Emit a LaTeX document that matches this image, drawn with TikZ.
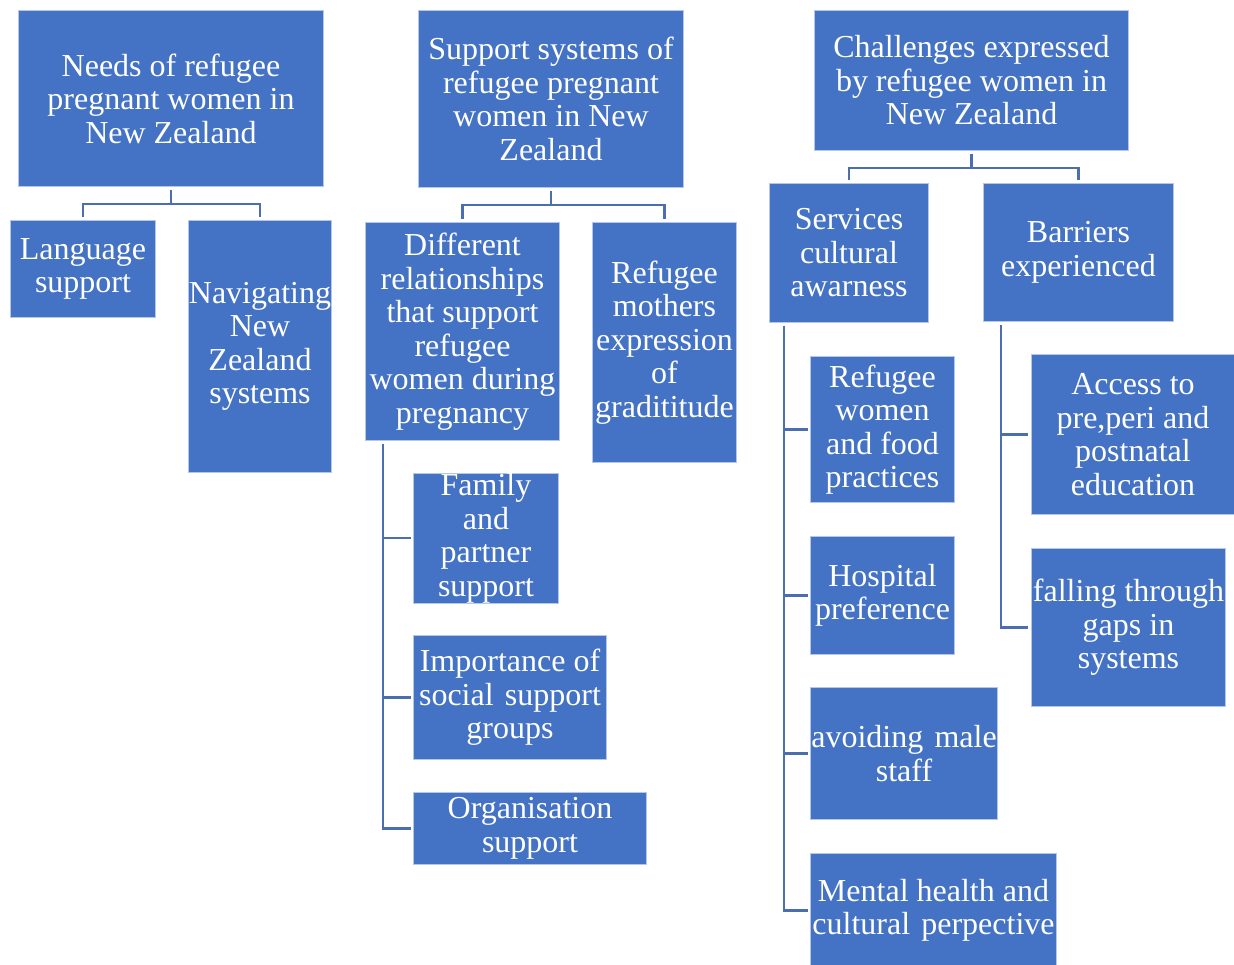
\documentclass[tikz,border=0pt]{standalone}
\usepackage{fontspec}
\setmainfont{Liberation Serif}
\definecolor{boxblue}{HTML}{4472C4}
\definecolor{edgeblue}{HTML}{B4C7E7}
\definecolor{lineblue}{HTML}{4A6EB0}
\tikzset{
  box/.style={draw=edgeblue, line width=1pt, fill=boxblue, text=white, align=center,
    inner sep=0pt, anchor=north west, font=\fontsize{32}{33.5}\selectfont},
  conn/.style={draw=lineblue, line width=2.2pt}
}
\begin{document}
\begin{tikzpicture}[x=1pt,y=-1pt]
\useasboundingbox (0,0) rectangle (1234,965);
% tree 1
\node[box, minimum width=305pt, minimum height=176pt] (n1) at (18,10) {Needs of refugee\\pregnant women in\\New Zealand};
\node[box, minimum width=145pt, minimum height=97pt] (c1) at (10,220) {Language\\support};
\node[box, minimum width=143pt, minimum height=252pt] (c2) at (188,220) {Navigating\\New\\Zealand\\systems};
\draw[conn] ([yshift=-3pt]n1.south) -- ++(0,14) -| ([yshift=3pt]c1.north);
\draw[conn] ([yshift=-3pt]n1.south) -- ++(0,14) -| ([yshift=3pt]c2.north);
% tree 2
\node[box, minimum width=265pt, minimum height=177pt] (n2) at (418,10) {Support systems of\\refugee pregnant\\women in New\\Zealand};
\node[box, minimum width=194pt, minimum height=218pt] (d) at (365,222) {Different\\relationships\\that support\\refugee\\women during\\pregnancy};
\node[box, minimum width=144pt, minimum height=240pt] (m) at (592,222) {Refugee\\mothers\\expression\\of\\gradititude};
\node[box, minimum width=145pt, minimum height=129pt] (fam) at (413,473) {Family\\and\\partner\\support};
\node[box, minimum width=193pt, minimum height=124pt] (imp) at (413,635) {Importance of\\social\hspace{0.1em} support\\groups};
\node[box, minimum width=233pt, minimum height=72pt] (org) at (413,792) {Organisation\\support};
\draw[conn] ([yshift=-3pt]n2.south) -- ++(0,14) -| ([yshift=3pt]d.north);
\draw[conn] ([yshift=-3pt]n2.south) -- ++(0,14) -| ([yshift=3pt]m.north);
\draw[conn] ([xshift=18pt,yshift=-3pt]d.south west) |- ([xshift=-2pt]fam.west);
\draw[conn] ([xshift=18pt,yshift=-3pt]d.south west) |- ([xshift=-2pt]imp.west);
\draw[conn] ([xshift=18pt,yshift=-3pt]d.south west) |- ([xshift=-2pt]org.west);
% tree 3
\node[box, minimum width=314pt, minimum height=140pt] (n3) at (814,10) {Challenges expressed\\by refugee women in\\New Zealand};
\node[box, minimum width=159pt, minimum height=139pt] (s) at (769,183) {Services\\cultural\\awarness};
\node[box, minimum width=190pt, minimum height=138pt] (b) at (983,183) {Barriers\\experienced};
\node[box, minimum width=144pt, minimum height=146pt] (rw) at (810,356) {Refugee\\women\\and food\\practices};
\node[box, minimum width=144pt, minimum height=118pt] (hp) at (810,536) {Hospital\\preference};
\node[box, minimum width=187pt, minimum height=132pt] (am) at (810,687) {avoiding\hspace{0.1em} male\\staff};
\node[box, minimum width=246pt, minimum height=114pt] (mh) at (810,853) {Mental health and\\cultural\hspace{0.1em} perpective};
\node[box, minimum width=203pt, minimum height=160pt] (ac) at (1031,354) {Access to\\pre,peri and\\postnatal\\education};
\node[box, minimum width=194pt, minimum height=158pt] (fg) at (1031,548) {falling through\\gaps in\\systems};
\draw[conn] ([yshift=-3pt]n3.south) -- ++(0,14) -| ([yshift=3pt]s.north);
\draw[conn] ([yshift=-3pt]n3.south) -- ++(0,14) -| ([yshift=3pt]b.north);
\draw[conn] ([xshift=15pt,yshift=-3pt]s.south west) |- ([xshift=-2pt]rw.west);
\draw[conn] ([xshift=15pt,yshift=-3pt]s.south west) |- ([xshift=-2pt]hp.west);
\draw[conn] ([xshift=15pt,yshift=-3pt]s.south west) |- ([xshift=-2pt]am.west);
\draw[conn] ([xshift=15pt,yshift=-3pt]s.south west) |- ([xshift=-2pt]mh.west);
\draw[conn] ([xshift=18pt,yshift=-3pt]b.south west) |- ([xshift=-3pt]ac.west);
\draw[conn] ([xshift=18pt,yshift=-3pt]b.south west) |- ([xshift=-3pt]fg.west);
\end{tikzpicture}
\end{document}
